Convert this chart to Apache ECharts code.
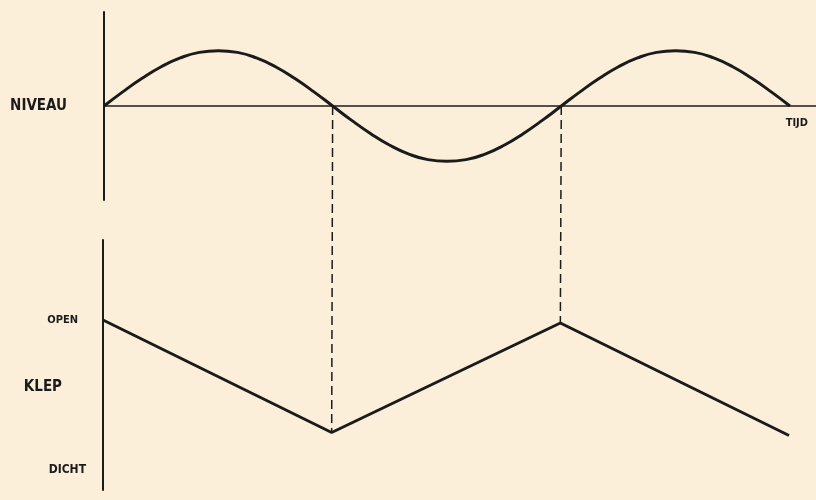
<!DOCTYPE html>
<html>
<head>
<meta charset="utf-8">
<script src="https://cdn.jsdelivr.net/npm/echarts@6.0.0/dist/echarts.min.js"></script>
<style>
  html, body { margin: 0; padding: 0; background: #fcefd9; }
  #chart { width: 816px; height: 500px; }
</style>
</head>
<body>
<div id="chart"></div>
<script>
// tijd in halve periodes (0 = begin, 1 en 2 = nuldoorgangen), stap 1/12
const tijd = [0, 1/12, 2/12, 3/12, 4/12, 5/12, 6/12, 7/12, 8/12, 9/12, 10/12, 11/12,
  1, 13/12, 14/12, 15/12, 16/12, 17/12, 18/12, 19/12, 20/12, 21/12, 22/12, 23/12,
  2, 25/12, 26/12, 27/12, 28/12, 29/12, 30/12, 31/12, 32/12, 33/12, 34/12, 35/12, 3];
const niveau = [0, 0.26, 0.5, 0.71, 0.87, 0.97, 1, 0.97, 0.87, 0.71, 0.5, 0.26,
  0, -0.26, -0.5, -0.71, -0.87, -0.97, -1, -0.97, -0.87, -0.71, -0.5, -0.26,
  0, 0.26, 0.5, 0.71, 0.87, 0.97, 1, 0.97, 0.87, 0.71, 0.5, 0.26, 0];
const klepTijd = [0, 1, 2, 3];
const klep = [1, 0.25, 0.98, 0.23];
const kruispunten = [1, 2];
const klepLabels = { 0: 'DICHT', 0.553: 'KLEP', 1: 'OPEN' };

const ink = '#1b1b1b';
const font = "'DejaVu Sans Condensed', 'Liberation Sans Narrow', sans-serif";

const chart = echarts.init(document.getElementById('chart'), null, { renderer: 'canvas' });

chart.setOption({
  backgroundColor: '#fcefd9',
  animation: false,
  grid: [
    { left: 104, right: 0, top: 12, height: 188 },
    { left: 103, right: 0, top: 240, height: 250 }
  ],
  xAxis: [
    { gridIndex: 0, type: 'value', min: 0, max: 3.114, position: 'bottom', offset: -94,
      axisLine: { onZero: false, lineStyle: { color: ink, width: 1.5 } },
      axisTick: { show: false }, splitLine: { show: false },
      axisLabel: { customValues: [3.03], formatter: () => 'TIJD', color: ink,
        fontFamily: font, fontWeight: 'bold', fontSize: 11, margin: 12 } },
    { gridIndex: 1, type: 'value', min: 0, max: 3.118, show: false }
  ],
  yAxis: [
    { gridIndex: 0, type: 'value', min: -1.7, max: 1.7,
      axisLine: { show: true, onZero: false, lineStyle: { color: ink, width: 2 } },
      axisTick: { show: false }, splitLine: { show: false },
      axisLabel: { customValues: [0], formatter: () => 'NIVEAU', color: ink,
        fontFamily: font, fontWeight: 'bold', fontSize: 15, margin: 37 } },
    { gridIndex: 1, type: 'value', min: -0.1333, max: 1.5333,
      axisLine: { show: true, onZero: false, lineStyle: { color: ink, width: 2 } },
      axisTick: { show: false }, splitLine: { show: false },
      axisLabel: {
        customValues: [0, 0.553, 1],
        formatter: v => {
          const t = klepLabels[v];
          return t === 'OPEN' ? '{o|' + t + '}' : t === 'KLEP' ? '{k|' + t + '}' : '{d|' + t + '}';
        },
        margin: 17,
        rich: {
          o: { color: ink, fontFamily: font, fontWeight: 'bold', fontSize: 11, padding: [0, 8, 0, 0] },
          d: { color: ink, fontFamily: font, fontWeight: 'bold', fontSize: 12 },
          k: { color: ink, fontFamily: font, fontWeight: 'bold', fontSize: 15, padding: [0, 24, 0, 0] }
        }
      } }
  ],
  series: [
    { type: 'line', xAxisIndex: 0, yAxisIndex: 0, smooth: true, showSymbol: false,
      data: tijd.map((t, i) => [t, niveau[i]]),
      lineStyle: { color: ink, width: 3 } },
    { type: 'line', xAxisIndex: 1, yAxisIndex: 1, showSymbol: false,
      data: klepTijd.map((t, i) => [t, klep[i]]),
      lineStyle: { color: ink, width: 3 } }
  ]
});

// gestreepte verbindingslijnen: van nuldoorgang niveau naar knikpunt klep
const dash = kruispunten.map(t => {
  const top = chart.convertToPixel({ gridIndex: 0 }, [t, 0]);
  const bot = chart.convertToPixel({ gridIndex: 1 }, [t, klep[klepTijd.indexOf(t)]]);
  return {
    type: 'line', silent: true,
    shape: { x1: top[0], y1: top[1], x2: bot[0], y2: bot[1] },
    style: { stroke: ink, lineWidth: 1.5, lineDash: [9, 5] }
  };
});
chart.setOption({ graphic: dash });
</script>
</body>
</html>
